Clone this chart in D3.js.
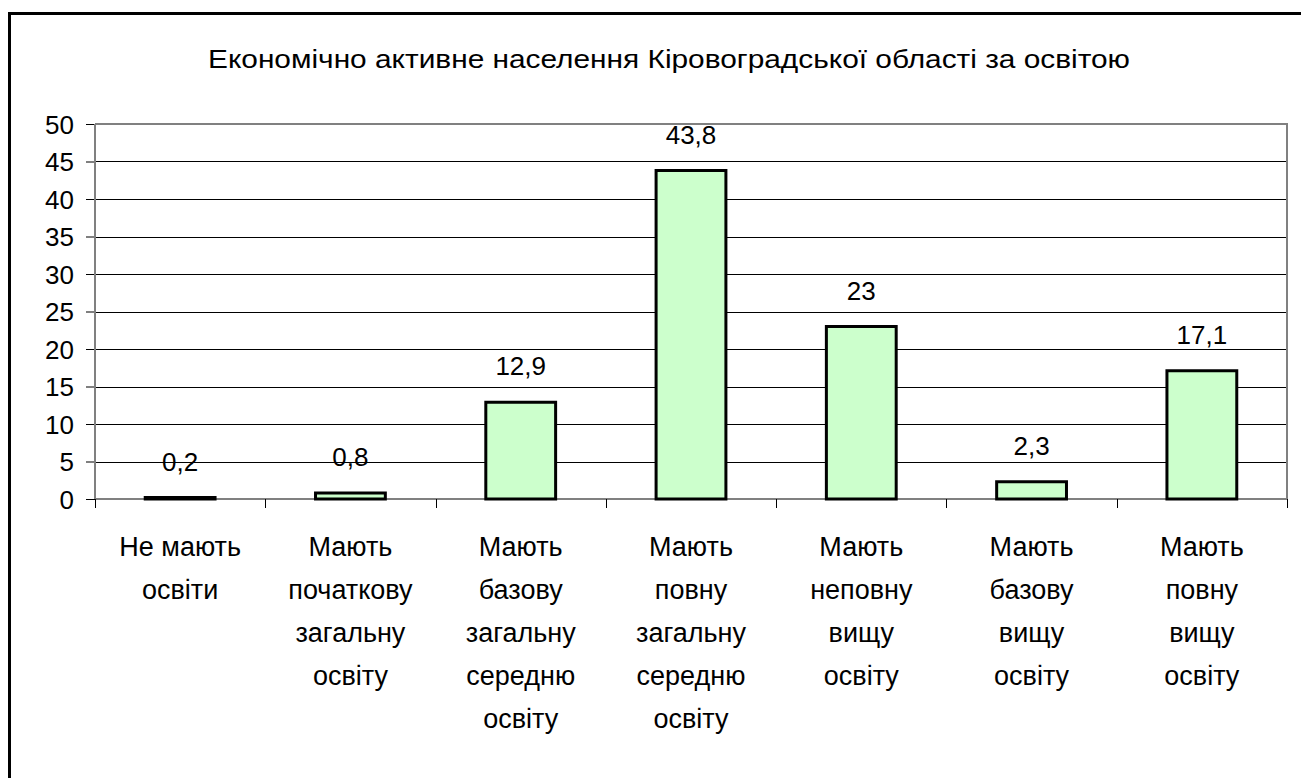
<!DOCTYPE html>
<html>
<head>
<meta charset="utf-8">
<script src="https://cdn.jsdelivr.net/npm/d3@7"></script>
<style>
  body { margin: 0; background: #fff; }
  svg text { font-family: 'Liberation Sans', Arial, sans-serif; fill: #000; }
</style>
</head>
<body>
<div id="chart-box"></div>
<script>
var titleText = 'Економічно активне населення Кіровоградської області за освітою';

var categories = [
  ['Не мають', 'освіти'],
  ['Мають', 'початкову', 'загальну', 'освіту'],
  ['Мають', 'базову', 'загальну', 'середню', 'освіту'],
  ['Мають', 'повну', 'загальну', 'середню', 'освіту'],
  ['Мають', 'неповну', 'вищу', 'освіту'],
  ['Мають', 'базову', 'вищу', 'освіту'],
  ['Мають', 'повну', 'вищу', 'освіту']
];
var values = [0.2, 0.8, 12.9, 43.8, 23, 2.3, 17.1];
var valueLabels = ['0,2', '0,8', '12,9', '43,8', '23', '2,3', '17,1'];
var yTicks = [0, 5, 10, 15, 20, 25, 30, 35, 40, 45, 50];

var width = 1301;
var height = 778;
var margin = { top: 124, right: 14, bottom: 279, left: 95 };
var innerW = width - margin.left - margin.right;
var innerH = height - margin.top - margin.bottom;

var svg = d3.select('#chart-box')
    .append('svg')
    .attr('width', width)
    .attr('height', height);

// outer frame, right and bottom edges run off the page like in the source
svg.append('rect')
    .attr('x', 9.5)
    .attr('y', 13.5)
    .attr('width', 1400)
    .attr('height', 900)
    .attr('fill', 'none')
    .attr('stroke', '#000')
    .attr('stroke-width', 3);

svg.append('text')
    .attr('x', 669)
    .attr('y', 68)
    .attr('text-anchor', 'middle')
    .attr('font-size', 26)
    .attr('textLength', 922)
    .attr('lengthAdjust', 'spacingAndGlyphs')
    .text(titleText);

var g = svg.append('g')
    .attr('transform', 'translate(' + margin.left + ',' + margin.top + ')');

var idx = d3.range(values.length);

var xCat = d3.scaleBand()
    .domain(idx)
    .range([0, innerW]);

var xBar = d3.scaleBand()
    .domain(idx)
    .range([0, innerW])
    .paddingInner(0.59)
    .paddingOuter(0.295);

var y = d3.scaleLinear()
    .domain([0, 50])
    .range([innerH, 0]);

// gridlines
g.append('g')
    .attr('class', 'grid')
    .selectAll('line')
    .data(yTicks.filter(function(d) { return d > 0 && d < 50; }))
    .enter().append('line')
    .attr('x1', 0)
    .attr('x2', innerW)
    .attr('y1', function(d) { return Math.round(y(d)) + 0.5; })
    .attr('y2', function(d) { return Math.round(y(d)) + 0.5; })
    .attr('stroke', '#000')
    .attr('stroke-width', 1);

// plot border top / right
g.append('path')
    .attr('d', 'M0,' + y(50) + 'H' + innerW + 'V' + innerH)
    .attr('fill', 'none')
    .attr('stroke', '#808080')
    .attr('stroke-width', 2);

// y axis
var yAxis = g.append('g')
    .call(d3.axisLeft(y)
      .tickValues(yTicks)
      .tickSize(9)
      .tickPadding(12)
      .tickFormat(d3.format('d')));
yAxis.select('.domain').remove();
yAxis.selectAll('.tick line').attr('stroke', '#000');
yAxis.selectAll('.tick text')
    .attr('font-size', 26)
    .attr('font-family', null)
    .attr('dy', '0.36em');

// axis lines
g.append('line')
    .attr('x1', 0).attr('x2', 0)
    .attr('y1', y(50)).attr('y2', innerH)
    .attr('stroke', '#808080')
    .attr('stroke-width', 2);

g.append('line')
    .attr('x1', 0).attr('x2', innerW)
    .attr('y1', innerH).attr('y2', innerH)
    .attr('stroke', '#808080')
    .attr('stroke-width', 2);

// category boundary ticks
g.selectAll('.xtick')
    .data(d3.range(values.length + 1))
    .enter().append('line')
    .attr('class', 'xtick')
    .attr('x1', function(d) { return Math.round(d * xCat.step()) + 0.5; })
    .attr('x2', function(d) { return Math.round(d * xCat.step()) + 0.5; })
    .attr('y1', innerH)
    .attr('y2', innerH + 9)
    .attr('stroke', '#000');

// bars (drawn over the axis line)
g.selectAll('.bar')
    .data(values)
    .enter().append('rect')
    .attr('class', 'bar')
    .attr('x', function(d, i) { return xBar(i); })
    .attr('y', function(d) { return y(d); })
    .attr('width', xBar.bandwidth())
    .attr('height', function(d) { return innerH - y(d); })
    .attr('fill', '#ccffcc')
    .attr('stroke', '#000')
    .attr('stroke-width', 3);

// value labels
g.selectAll('.val')
    .data(values)
    .enter().append('text')
    .attr('class', 'val')
    .attr('x', function(d, i) { return xBar(i) + xBar.bandwidth() / 2; })
    .attr('y', function(d) { return y(d) - 27; })
    .attr('text-anchor', 'middle')
    .attr('font-size', 26)
    .text(function(d, i) { return valueLabels[i]; });

// category labels
var catText = g.selectAll('.cat')
    .data(categories)
    .enter().append('text')
    .attr('class', 'cat')
    .attr('text-anchor', 'middle')
    .attr('font-size', 27)
    .attr('transform', function(d, i) {
      return 'translate(' + (xCat(i) + xCat.bandwidth() / 2) + ',' + (innerH + 57) + ')';
    });

catText.selectAll('tspan')
    .data(function(d) { return d; })
    .enter().append('tspan')
    .attr('x', 0)
    .attr('y', function(d, i) { return i * 43; })
    .text(function(d) { return d; });
</script>
</body>
</html>
